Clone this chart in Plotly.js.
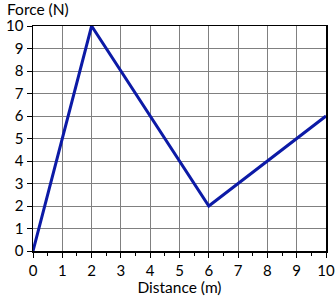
<!DOCTYPE html>
<html><head><meta charset="utf-8">
<script src="https://cdn.plot.ly/plotly-3.0.1.min.js"></script>
<style>html,body{margin:0;padding:0;background:#fff}</style>
</head><body><div id="c" style="width:336px;height:300px"></div>
<script>
const distance = [0, 2, 6, 10];
const force = [0, 10, 2, 6];
const tickVals = [0,1,2,3,4,5,6,7,8,9,10];
const xTitle = "Distance (m)";
const yTitle = "Force (N)";
const fnt = {family: "Lato, 'Open Sans', sans-serif", size: 15, color: "#000"};
const tfnt = {family: "Lato, 'Open Sans', sans-serif", size: 15.5, color: "#000"};
Plotly.newPlot("c", [{
  x: distance, y: force, type: "scatter", mode: "lines",
  line: {color: "#0c1aa6", width: 3}, hoverinfo: "skip"
}], {
  width: 336, height: 300,
  margin: {l: 33, r: 10, t: 26, b: 49},
  paper_bgcolor: "#fff", plot_bgcolor: "#fff",
  showlegend: false,
  font: fnt,
  xaxis: {range: [0, 10], tickvals: tickVals, ticktext: tickVals.map(String),
    showgrid: true, gridcolor: "#808080", gridwidth: 1,
    showline: true, linecolor: "#000", linewidth: 1.5, mirror: true,
    ticks: "outside", ticklen: 5, tickcolor: "#000", tickwidth: 1,
    minor: {dtick: 0.5, ticks: "outside", ticklen: 3, tickcolor: "#000", showgrid: false},
    zeroline: false, tickfont: fnt,
    title: {text: xTitle, font: tfnt, standoff: 1}},
  yaxis: {range: [0, 10], tickvals: tickVals, ticktext: tickVals.map(String),
    showgrid: true, gridcolor: "#808080", gridwidth: 1,
    showline: true, linecolor: "#000", linewidth: 1.5, mirror: true,
    ticks: "outside", ticklen: 5, tickcolor: "#000", tickwidth: 1,
    zeroline: false, tickfont: fnt},
  annotations: [{text: yTitle, xref: "paper", yref: "paper", x: -0.095, y: 1.0,
    xanchor: "left", yanchor: "bottom", yshift: 6, showarrow: false, font: tfnt}]
}, {displayModeBar: false, staticPlot: true});
</script></body></html>
